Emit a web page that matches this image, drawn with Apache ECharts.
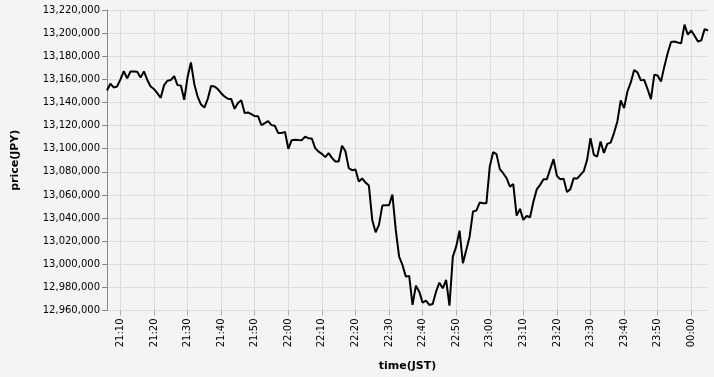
<!DOCTYPE html>
<html>
<head>
<meta charset="utf-8">
<script src="https://cdn.jsdelivr.net/npm/echarts@6/dist/echarts.min.js"></script>
<style>
html,body{margin:0;padding:0;background:#f4f4f4;}
#chart{width:714px;height:377px;}
</style>
</head>
<body>
<div id="chart"></div>
<script>
// one value per minute, starting at 21:06 (JST)
const startTime = "21:06";
const prices = [
13150400,13156200,13153000,13153800,13160000,13167000,13160800,13166800,13166700,13166500,
13161600,13166800,13159500,13153800,13151600,13148000,13144000,13155000,13158800,13159400,
13162800,13155000,13154700,13142300,13162000,13174600,13156000,13145000,13138200,13135600,
13143000,13154200,13153800,13151600,13148000,13145200,13143200,13142900,13134500,13139500,
13142000,13130800,13131300,13129900,13128200,13128000,13120300,13122100,13123900,13120400,
13119800,13113500,13113500,13114600,13099900,13107400,13107700,13107500,13107400,13110300,
13109100,13108800,13100500,13097500,13095500,13092700,13096200,13092100,13088900,13088900,
13102500,13097900,13083200,13081400,13082000,13071600,13074200,13070700,13068100,13038400,
13027700,13034100,13050800,13051100,13051100,13060300,13029700,13006600,12999400,12989300,
12989900,12964800,12981500,12976300,12966800,12968500,12964800,12965600,12976300,12984100,
12979200,12986400,12964200,13006600,13015300,13029100,13000900,13012400,13023900,13045600,
13046400,13053400,13052800,13052800,13084500,13097000,13095300,13082300,13078800,13074500,
13067200,13069300,13042100,13047900,13038400,13041800,13040700,13054200,13064800,13068700,
13073600,13073600,13082300,13091000,13076500,13073600,13073900,13062600,13065000,13074500,
13074100,13077400,13080600,13090400,13109100,13094700,13093200,13106200,13096300,13104200,
13105300,13113500,13123500,13141700,13135100,13149500,13157300,13168000,13166000,13159100,
13159600,13151600,13142900,13163900,13163400,13158200,13171200,13182800,13192300,13192800,
13191900,13191100,13207300,13198600,13202300,13197700,13192800,13193700,13203500,13202300
];
const yMin = 12960000;
const yMax = 13220000;
const yStep = 20000;

// minute-by-minute category labels
const times = [];
(function () {
  const p = startTime.split(":");
  let m = parseInt(p[0], 10) * 60 + parseInt(p[1], 10);
  for (let i = 0; i < prices.length; i++) {
    const mm = (m + i) % (24 * 60);
    const h = Math.floor(mm / 60), n = mm % 60;
    times.push((h < 10 ? "0" : "") + h + ":" + (n < 10 ? "0" : "") + n);
  }
})();

const tenMin = (idx, val) => val.slice(-1) === "0";
const FONT = "DejaVu Sans";

const chart = echarts.init(document.getElementById("chart"), null, {renderer: "canvas"});
chart.setOption({
  backgroundColor: "#f4f4f4",
  animation: false,
  textStyle: {fontFamily: FONT},
  grid: {left: 107, right: 6, top: 10, bottom: 66.5, containLabel: false},
  xAxis: {
    type: "category",
    data: times,
    boundaryGap: false,
    name: "time(JST)",
    nameLocation: "middle",
    nameGap: 50,
    nameTextStyle: {fontFamily: FONT, fontSize: 11, fontWeight: "bold", color: "#000"},
    axisLine: {show: false},
    axisTick: {show: true, interval: tenMin, length: 5, lineStyle: {color: "#aaa"}},
    axisLabel: {interval: tenMin, rotate: 90, fontFamily: FONT, fontSize: 10, color: "#000", margin: 8},
    splitLine: {show: true, interval: tenMin, lineStyle: {color: "#ddd", width: 1}}
  },
  yAxis: {
    type: "value",
    min: yMin,
    max: yMax,
    interval: yStep,
    name: "price(JPY)",
    nameLocation: "middle",
    nameRotate: 90,
    nameGap: 86,
    nameTextStyle: {fontFamily: FONT, fontSize: 11, fontWeight: "bold", color: "#000"},
    axisLine: {show: true, lineStyle: {color: "#888"}},
    axisTick: {show: true, length: 5, lineStyle: {color: "#888"}},
    axisLabel: {fontFamily: FONT, fontSize: 10, color: "#000", margin: 7,
      formatter: v => v.toLocaleString("en-US")},
    splitLine: {show: true, lineStyle: {color: "#ddd", width: 1}}
  },
  series: [{
    type: "line",
    data: prices,
    showSymbol: false,
    symbol: "none",
    lineStyle: {color: "#000", width: 2},
    itemStyle: {color: "#000"}
  }]
});
</script>
</body>
</html>
